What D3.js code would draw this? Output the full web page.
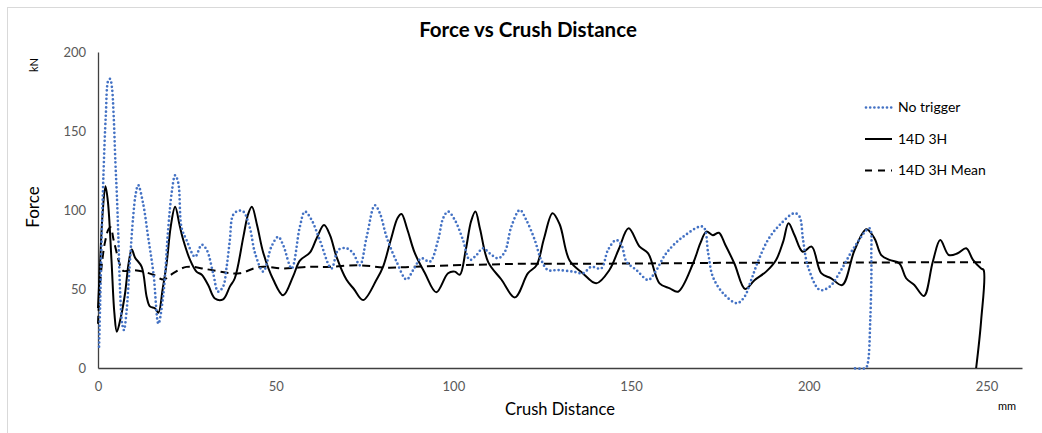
<!DOCTYPE html>
<html lang="en">

<head>
    <meta charset="UTF-8">
    <title>Force vs Crush Distance</title>
    <script src="https://d3js.org/d3.v7.min.js"></script>
    <style>
        body { margin: 0; background: #fff; }
        text { font-family: Lato, "Open Sans", sans-serif; }
    </style>
</head>

<body>
    <script>
        // Values (crush distance in mm, force in kN)
        var noTrigger = [
            [0.3, 13.5], [0.6, 40], [1, 80], [1.5, 120], [2.2, 160], [2.9, 182], [3.4, 183], [3.9, 178],
            [4.4, 160], [4.9, 130], [5.3, 110], [5.7, 85], [6.2, 50], [6.8, 28], [7.3, 24], [8, 35],
            [9, 68], [9.9, 95.8], [10.6, 110], [11.3, 115.8], [12.7, 104], [14.1, 83], [15.6, 60], [17, 28],
            [18.4, 47], [19.8, 89.4], [20.8, 112], [21.7, 122], [22.6, 117], [23.5, 89], [24.9, 81], [27.3, 70.4],
            [29.2, 78], [30.6, 74.7], [32.4, 60], [33.8, 48.3], [35.2, 51.5], [36.2, 64], [37.1, 81], [38, 96.8],
            [39.5, 99.5], [40.9, 99], [42.7, 89], [44.2, 72.6], [46.5, 61], [48.8, 76.8], [50.7, 83], [52.1, 77.8],
            [54.5, 63], [56.8, 89.4], [58.2, 99], [60.1, 93.7], [62.4, 81], [65.7, 63], [67.6, 74.7], [69.9, 75.8],
            [71.8, 72.6], [73.7, 65], [75.6, 83], [77.9, 103], [79.3, 98], [81.2, 83], [84, 67.3], [86.8, 56],
            [88.7, 62], [91, 69.4], [93.4, 67.3], [95.7, 81], [97.1, 94.7], [98.5, 99], [100.4, 93.7], [102.7, 81],
            [104.6, 68.4], [106.5, 71.5], [108.3, 75.8], [110.2, 72.6], [112.6, 69.4], [114.5, 73.6], [116.3, 89.4], [118.7, 100],
            [120.5, 93.7], [122.9, 81], [124.7, 68.4], [126.6, 62], [129.4, 62], [133.7, 61], [136.5, 60], [138.8, 64],
            [141.6, 63], [143.5, 74.7], [145.8, 81], [147.3, 77.8], [148.7, 67.3], [151.5, 62], [154.8, 55.7], [156.6, 60],
            [159.9, 72.6], [164.6, 83], [170.2, 89.4], [171.7, 72.6], [173, 57.8], [175.9, 47.3], [179.8, 41], [181.9, 45],
            [183.8, 55.7], [185.7, 67.3], [188.5, 81], [191.8, 90.5], [196, 98], [197.4, 95.8], [198.4, 81], [199.8, 64],
            [203.1, 49.4], [205.9, 51.5], [209.1, 62], [212.9, 76.8], [217.1, 88.4], [217.6, 70], [217.3, 30], [216.6, 3],
            [216, 0], [212, 0]
        ];

        var d14_3h = [
            [0, 38], [0.5, 62], [1.3, 98], [2.1, 115], [2.8, 105], [3.8, 68], [4.6, 35], [5.3, 23],
            [6.4, 32], [7.6, 47], [8.6, 66], [9.5, 75], [10.4, 70], [12.3, 64], [13.7, 45], [14.6, 39],
            [16, 37.8], [17, 35], [18.2, 50], [19.3, 66], [20.5, 90], [21.7, 102], [23, 90], [24, 81],
            [25.9, 68.4], [27.7, 61], [29.2, 59], [31, 52.5], [32.9, 44], [35.2, 43.5], [37.1, 51.5], [38.5, 56.8],
            [40.9, 83], [42.2, 97], [43.3, 102], [44.8, 90], [46.5, 73], [49.3, 56], [52.1, 46], [54.9, 58],
            [56.8, 68], [59.6, 73], [61.5, 82], [63.6, 90.5], [65.3, 84], [67.1, 70.5], [69.9, 56], [72, 50],
            [74.6, 43], [78.4, 56], [80.2, 64], [82.5, 82], [84.3, 95], [85.4, 97.5], [87, 88], [89.1, 73],
            [92, 60], [95.2, 48], [98.5, 60], [100.4, 61], [101.8, 59], [103.5, 75], [105, 93], [106.2, 99],
            [107.5, 88], [109.8, 67], [113.5, 56], [117.3, 44.7], [121, 60], [123.4, 65], [125.5, 82], [127.9, 98],
            [129.9, 91], [132.7, 68], [136.4, 60], [140.2, 53.6], [143.9, 62], [146.5, 75], [149.3, 88.4], [152.4, 76.8],
            [154.8, 72.6], [158, 53.6], [160.9, 50.4], [163.2, 48.3], [167.4, 66], [169.5, 79], [171.2, 86.3], [173, 84],
            [174.7, 85.6], [176.5, 78], [179.1, 66], [182.1, 50], [184.8, 55.7], [188, 61], [190.8, 68.4], [192.8, 80],
            [194.3, 91.6], [196, 84], [198.3, 73.6], [200.8, 76.8], [203.5, 60], [206.3, 56.8], [209.4, 52.5], [212.9, 74.7],
            [216.2, 87.8], [218.5, 82], [220.4, 71.5], [222.7, 68.4], [225.5, 66.2], [227.4, 56.8], [229.7, 52.5], [232.4, 45.6],
            [234.9, 67.3], [237, 81], [239.4, 71.5], [241.9, 72.6], [244.3, 75.8], [246.2, 68.4], [248.5, 63], [249.2, 62],
            [248.5, 30], [247.1, 0]
        ];

        var d14_3hMean = [
            [0, 28], [0.5, 50], [1.2, 68], [2, 80], [3, 88], [3.6, 89], [4.3, 82], [5.3, 72.6],
            [6.2, 65], [7.1, 61.5], [9.9, 62], [12.7, 61], [15.6, 59], [18.4, 56], [21.2, 60], [24.9, 64],
            [30.6, 62.5], [36.2, 60.3], [39.9, 60], [45.6, 64], [52.1, 63], [59.6, 64], [64.3, 64], [73.7, 65],
            [81.2, 63.5], [87.7, 64], [100, 65], [110, 65.5], [120, 66], [140, 66], [160, 66.3], [180, 66.6],
            [200, 66.6], [220, 66.8], [249.4, 67]
        ];

        var xTicks = [0, 50, 100, 150, 200, 250];
        var yTicks = [0, 50, 100, 150, 200];
        var seriesNames = ["No trigger", "14D 3H", "14D 3H Mean"];

        var width = 1042;
        var height = 433;
        var margin = { top: 52, right: 20, bottom: 65, left: 98 };

        var svg = d3.select("body").append("svg")
            .attr("width", width)
            .attr("height", height);

        // chart area border
        svg.append("rect")
            .attr("x", 7.5)
            .attr("y", 7.5)
            .attr("width", width)
            .attr("height", height)
            .attr("fill", "none")
            .attr("stroke", "#d9d9d9");

        var x = d3.scaleLinear()
            .domain([0, 260])
            .range([margin.left, width - margin.right]);

        var y = d3.scaleLinear()
            .domain([0, 200])
            .range([height - margin.bottom, margin.top]);

        // axes
        var xAxis = svg.append("g")
            .attr("transform", `translate(0,${y(0)})`)
            .call(d3.axisBottom(x).tickValues(xTicks).tickSize(0).tickPadding(14));

        var yAxis = svg.append("g")
            .attr("transform", `translate(${x(0)},0)`)
            .call(d3.axisLeft(y).tickValues(yTicks).tickSize(0).tickPadding(12));

        [xAxis, yAxis].forEach(function (g) {
            g.select(".domain").attr("stroke", "#404040").attr("stroke-width", 1.3);
            g.selectAll("text")
                .attr("fill", "#595959")
                .style("font-size", "13px")
                .style("font-family", "Lato, sans-serif");
        });

        var line = d3.line()
            .x(d => x(d[0]))
            .y(d => y(d[1]))
            .curve(d3.curveCatmullRom.alpha(0.5));

        // mean (dashed)
        svg.append("path")
            .datum(d14_3hMean)
            .attr("d", line)
            .attr("fill", "none")
            .attr("stroke", "#000")
            .attr("stroke-width", 2)
            .attr("stroke-dasharray", "8,5");

        // 14D 3H (solid)
        svg.append("path")
            .datum(d14_3h)
            .attr("d", line)
            .attr("fill", "none")
            .attr("stroke", "#000")
            .attr("stroke-width", 2)
            .attr("stroke-linejoin", "round");

        // no trigger (dotted blue)
        svg.append("path")
            .datum(noTrigger)
            .attr("d", line)
            .attr("fill", "none")
            .attr("stroke", "#4472c4")
            .attr("stroke-width", 2.7)
            .attr("stroke-linecap", "round")
            .attr("stroke-dasharray", "0,4.2");

        // title
        svg.append("text")
            .attr("x", 528)
            .attr("y", 37)
            .attr("text-anchor", "middle")
            .style("font-size", "20.5px")
            .style("font-weight", "bold")
            .attr("fill", "#000")
            .text("Force vs Crush Distance");

        // axis titles
        svg.append("text")
            .attr("transform", "translate(39,207) rotate(-90)")
            .attr("text-anchor", "middle")
            .style("font-size", "17px")
            .attr("fill", "#000")
            .text("Force");

        svg.append("text")
            .attr("transform", "translate(38,65) rotate(-90)")
            .attr("text-anchor", "middle")
            .style("font-size", "11px")
            .attr("fill", "#000")
            .text("kN");

        svg.append("text")
            .attr("x", 560)
            .attr("y", 415)
            .attr("text-anchor", "middle")
            .style("font-size", "16.5px")
            .attr("fill", "#000")
            .text("Crush Distance");

        svg.append("text")
            .attr("x", 1007)
            .attr("y", 410)
            .attr("text-anchor", "middle")
            .style("font-size", "11px")
            .attr("fill", "#000")
            .text("mm");

        // legend
        var legendStyles = [
            { stroke: "#4472c4", width: 2.7, dash: "0,4.2", cap: "round" },
            { stroke: "#000", width: 2, dash: null, cap: "butt" },
            { stroke: "#000", width: 2, dash: "7,6", cap: "butt" }
        ];

        var legend = svg.selectAll("g.legend")
            .data(seriesNames)
            .enter().append("g")
            .attr("class", "legend")
            .attr("transform", (d, i) => `translate(865,${107.5 + i * 31.5})`);

        legend.append("line")
            .attr("x1", (d, i) => i === 0 ? 1 : 0)
            .attr("x2", 27)
            .attr("y1", 0)
            .attr("y2", 0)
            .attr("stroke", (d, i) => legendStyles[i].stroke)
            .attr("stroke-width", (d, i) => legendStyles[i].width)
            .attr("stroke-linecap", (d, i) => legendStyles[i].cap)
            .attr("stroke-dasharray", (d, i) => legendStyles[i].dash);

        legend.append("text")
            .attr("x", 33)
            .attr("y", 0)
            .attr("dy", "0.35em")
            .style("font-size", "14px")
            .attr("fill", "#000")
            .text(d => d);
    </script>
</body>

</html>
